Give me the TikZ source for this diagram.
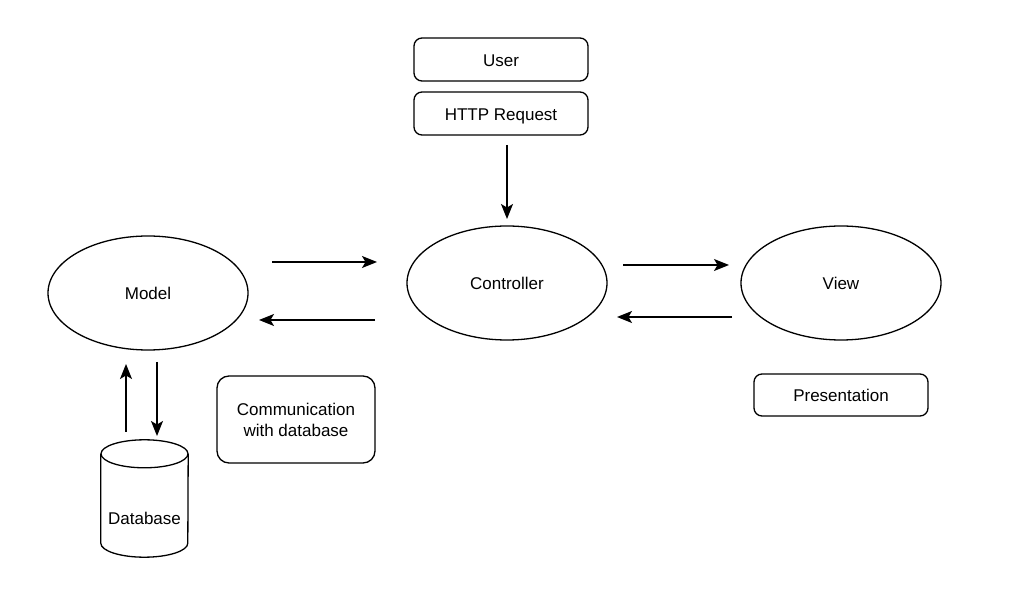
\documentclass[tikz,border=0pt]{standalone}
\usepackage{fontspec}
\setmainfont{Liberation Sans}
\usetikzlibrary{arrows.meta,shapes.geometric}
\begin{document}
\begin{tikzpicture}[x=1pt,y=1pt,
  lw/.style={line width=1.3pt},
  rbox/.style={draw, lw, rounded corners=8pt, minimum width=174pt, minimum height=43pt, inner sep=0pt, align=center},
  oval/.style={draw, lw, ellipse, minimum width=200pt, minimum height=114pt, inner sep=0pt},
  conn/.style={lw, -{Stealth[length=15pt,width=12pt,inset=3.5pt]}},
  every node/.style={font=\fontsize{17}{21}\selectfont, text height=14pt, text depth=0pt}]
\useasboundingbox (0,0) rectangle (1015,600);
\node[rbox] (user) at (501,540.5) {User};
\node[rbox] (http) at (501,486.5) {HTTP Request};
\node[oval] (ctrl) at (507,317) {Controller};
\node[oval] (model) at (148,307) {Model};
\node[oval] (view) at (841,317) {View};
\node[rbox, minimum width=158pt, minimum height=87pt, rounded corners=12pt, text height=, text depth=] (comm) at (296,180.5) {Communication\\with database};
\node[rbox, minimum height=42pt] (pres) at (841,205) {Presentation};
% database cylinder
\node[minimum width=87pt, minimum height=117pt, inner sep=0pt] (db) at (144.5,101.5) {};
\node at (144.5,82) (dblabel) {Database};
\draw[lw] ([yshift=-14pt]db.north) ellipse [x radius=43.5pt, y radius=14pt];
\draw[lw] ([yshift=-14pt]db.north west) -- ([yshift=14pt]db.south west)
  arc [start angle=180, end angle=360, x radius=43.5pt, y radius=14pt]
  -- ([yshift=-14pt]db.north east);
% connector endpoints
\coordinate (a1) at (507,455); \coordinate (a2) at (507,381);
\coordinate (b1) at (272,338); \coordinate (b2) at (377,338);
\coordinate (c1) at (375,280); \coordinate (c2) at (259,280);
\coordinate (d1) at (623,335); \coordinate (d2) at (729,335);
\coordinate (e1) at (732,283); \coordinate (e2) at (617,283);
\coordinate (f1) at (126,168); \coordinate (f2) at (126,236);
\coordinate (g1) at (157,238); \coordinate (g2) at (157,164);
\draw[conn] (a1) -- (a2);
\draw[conn] (b1) -- (b2);
\draw[conn] (c1) -- (c2);
\draw[conn] (d1) -- (d2);
\draw[conn] (e1) -- (e2);
\draw[conn] (f1) -- (f2);
\draw[conn] (g1) -- (g2);
\end{tikzpicture}
\end{document}
